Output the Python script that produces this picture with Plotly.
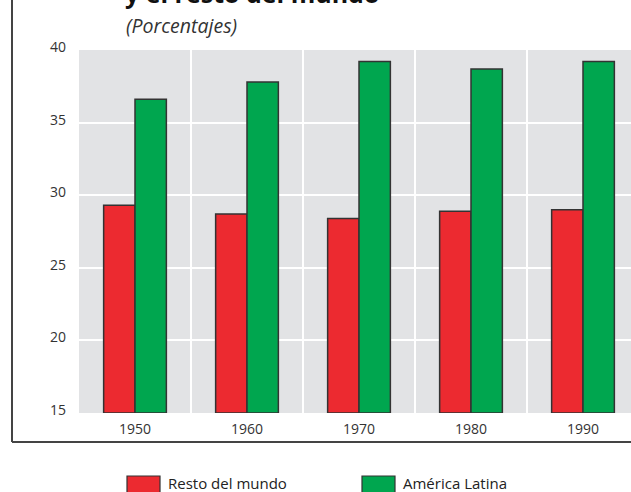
import plotly.graph_objects as go

# Data
years = ["1950", "1960", "1970", "1980", "1990"]
resto_del_mundo = [29.3, 28.7, 28.4, 28.9, 29.0]
america_latina = [36.6, 37.8, 39.2, 38.7, 39.2]
series_names = ["Resto del mundo", "América Latina"]
y_ticks = [15, 20, 25, 30, 35, 40]

RED = "#ec2a30"
GREEN = "#00a64f"
EDGE = "#333333"
FONT = "Open Sans, Noto Sans, sans-serif"

W, H = 631, 492
ML, MR, MT, MB = 79, 0, 50, 79

def px_x(x):
    return (x - ML) / (W - ML - MR)

def px_y(y):
    return (H - MB - y) / (H - MT - MB)

x_pos = list(range(len(years)))

fig = go.Figure()
fig.add_trace(go.Bar(
    x=x_pos, y=[v - 15 for v in resto_del_mundo], base=15, name=series_names[0],
    marker=dict(color=RED, line=dict(color=EDGE, width=1.5)),
    showlegend=False,
))
fig.add_trace(go.Bar(
    x=x_pos, y=[v - 15 for v in america_latina], base=15, name=series_names[1],
    marker=dict(color=GREEN, line=dict(color=EDGE, width=1.5)),
    showlegend=False,
))

# Vertical separators between the year groups
for i in range(len(years)):
    fig.add_shape(type="line", xref="x", yref="paper", x0=i + 0.5, x1=i + 0.5,
                  y0=0, y1=1, line=dict(color="white", width=2), layer="below")

# Outer frame: left and bottom rules
fig.add_shape(type="line", xref="paper", yref="paper",
              x0=px_x(12), x1=px_x(12), y0=px_y(-5), y1=px_y(442),
              line=dict(color="#444444", width=2))
fig.add_shape(type="line", xref="paper", yref="paper",
              x0=px_x(12), x1=px_x(640), y0=px_y(442), y1=px_y(442),
              line=dict(color="#444444", width=2))

# Title and subtitle
fig.add_annotation(text="<b>y el resto del mundo</b>", xref="paper", yref="paper",
                   x=px_x(123), y=px_y(12), xanchor="left", yanchor="bottom",
                   showarrow=False, font=dict(family=FONT, size=25, color="#111111"))
fig.add_annotation(text="<i>(Porcentajes)</i>", xref="paper", yref="paper",
                   x=px_x(124), y=px_y(25), xanchor="left", yanchor="middle",
                   showarrow=False, font=dict(family=FONT, size=19.5, color="#333333"))

# Legend drawn as swatches with labels
legend_items = [(series_names[0], RED, 127), (series_names[1], GREEN, 362)]
for name, color, x0 in legend_items:
    fig.add_shape(type="rect", xref="paper", yref="paper",
                  x0=px_x(x0), x1=px_x(x0 + 33), y0=px_y(476), y1=px_y(494),
                  fillcolor=color, line=dict(color=EDGE, width=1.2))
    fig.add_annotation(text=name, xref="paper", yref="paper",
                       x=px_x(x0 + 39), y=px_y(482.5), xanchor="left", yanchor="middle",
                       showarrow=False, font=dict(family=FONT, size=15, color="#222222"))

fig.update_layout(
    width=W, height=H,
    margin=dict(l=ML, r=MR, t=MT, b=MB, pad=0),
    paper_bgcolor="white",
    plot_bgcolor="#e2e3e5",
    barmode="group",
    bargap=0.44,
    bargroupgap=0,
    font=dict(family=FONT, size=14, color="#333333"),
    xaxis=dict(
        range=[-0.5, (W - ML - MR) / 112 - 0.5],
        tickmode="array", tickvals=x_pos, ticktext=years,
        showgrid=False, zeroline=False, showline=False,
        ticklabelstandoff=6,
        tickfont=dict(size=14, color="#333333"),
    ),
    yaxis=dict(
        range=[15, 40],
        tickmode="array", tickvals=y_ticks,
        showgrid=True, gridcolor="white", gridwidth=2,
        zeroline=False, showline=False,
        ticklabelstandoff=12, ticklabelshift=-3,
        tickfont=dict(size=14, color="#333333"),
    ),
)

fig.write_html("out.html")
